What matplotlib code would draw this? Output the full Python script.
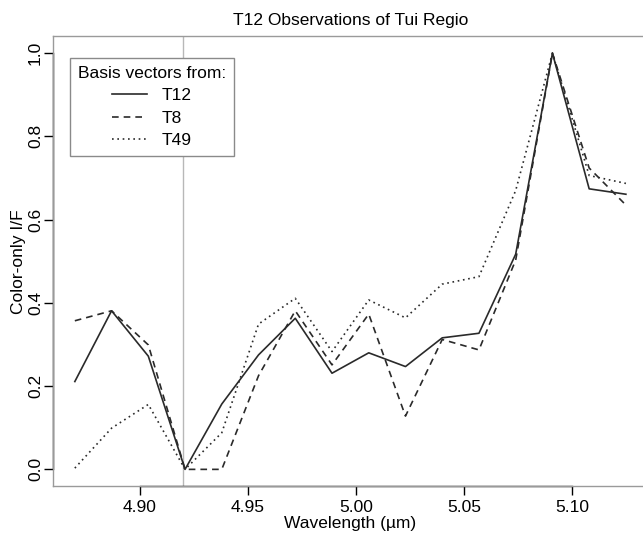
import matplotlib
matplotlib.use("Agg")

import matplotlib.pyplot as plt
from matplotlib.lines import Line2D

# ---- DATA ----
wavelength = [4.870, 4.887, 4.904, 4.921, 4.938, 4.955, 4.972, 4.989,
              5.006, 5.023, 5.040, 5.057, 5.074, 5.091, 5.108, 5.125]
t12 = [0.211, 0.381, 0.272, 0.000, 0.157, 0.275, 0.363, 0.231,
       0.280, 0.247, 0.316, 0.327, 0.517, 1.000, 0.674, 0.661]
t8 = [0.357, 0.381, 0.299, 0.000, 0.000, 0.225, 0.381, 0.251,
      0.373, 0.128, 0.312, 0.287, 0.503, 1.000, 0.724, 0.635]
t49 = [0.003, 0.099, 0.156, 0.000, 0.088, 0.349, 0.411, 0.283,
       0.407, 0.364, 0.445, 0.463, 0.670, 1.000, 0.706, 0.687]
series_names = ["T12", "T8", "T49"]
marker_wl = 4.92
xticks = [4.90, 4.95, 5.00, 5.05, 5.10]
yticks = [0.0, 0.2, 0.4, 0.6, 0.8, 1.0]

plt.rcParams["font.family"] = ["Liberation Sans", "DejaVu Sans"]
fs = 12.5
plt.rcParams["font.size"] = fs

fig = plt.figure(figsize=(6.43, 5.39), dpi=100)
ax = fig.add_axes([0.0821, 0.0983, 0.9256, 0.834])

line_col = "#2a2a2a"
ax.plot(wavelength, t12, color=line_col, lw=1.2, ls="-", label=series_names[0])
ax.plot(wavelength, t8, color=line_col, lw=1.2, ls=(0, (4, 3)), label=series_names[1])
ax.plot(wavelength, t49, color=line_col, lw=1.2, ls=(0, (1, 2.2)), label=series_names[2])

ax.axvline(marker_wl, color="#b8b8b8", lw=1.0, zorder=0)

ax.margins(x=0.04, y=0.04)

# ---- AXES (R style) ----
for sp in ax.spines.values():
    sp.set_color("#9a9a9a")
    sp.set_linewidth(1.0)

ax.set_xticks(xticks)
ax.set_xticklabels([f"{v:.2f}" for v in xticks])
ax.set_yticks(yticks)
ax.set_yticklabels([f"{v:.1f}" for v in yticks], rotation=90, va="center")
ax.tick_params(direction="out", length=6.5, width=1.0, color="black",
               labelsize=fs)
ax.tick_params(axis="x", pad=3.5)
ax.tick_params(axis="y", pad=0.5)

ax.add_line(Line2D([xticks[0], xticks[-1]], [0, 0], color="black", lw=1.0,
                   transform=ax.get_xaxis_transform(), clip_on=False))
ax.add_line(Line2D([0, 0], [yticks[0], yticks[-1]], color="black", lw=1.0,
                   transform=ax.get_yaxis_transform(), clip_on=False))

ax.set_xlabel("Wavelength (µm)", fontsize=fs, labelpad=1)
ax.set_ylabel("Color-only I/F", fontsize=fs, labelpad=1.5)
ax.set_title("T12 Observations of Tui Regio", fontsize=fs, pad=8.5)

leg = ax.legend(title="Basis vectors from:", loc="upper left",
                bbox_to_anchor=(0.029, 0.952), frameon=True, fancybox=False,
                edgecolor="#8a8a8a", framealpha=1, fontsize=fs,
                title_fontsize=fs, handlelength=2.0, handletextpad=0.85,
                labelspacing=0.42, borderpad=0.45, borderaxespad=0)
leg.get_frame().set_linewidth(1.0)

fig.savefig("out.png", dpi=100)
plt.close(fig)
